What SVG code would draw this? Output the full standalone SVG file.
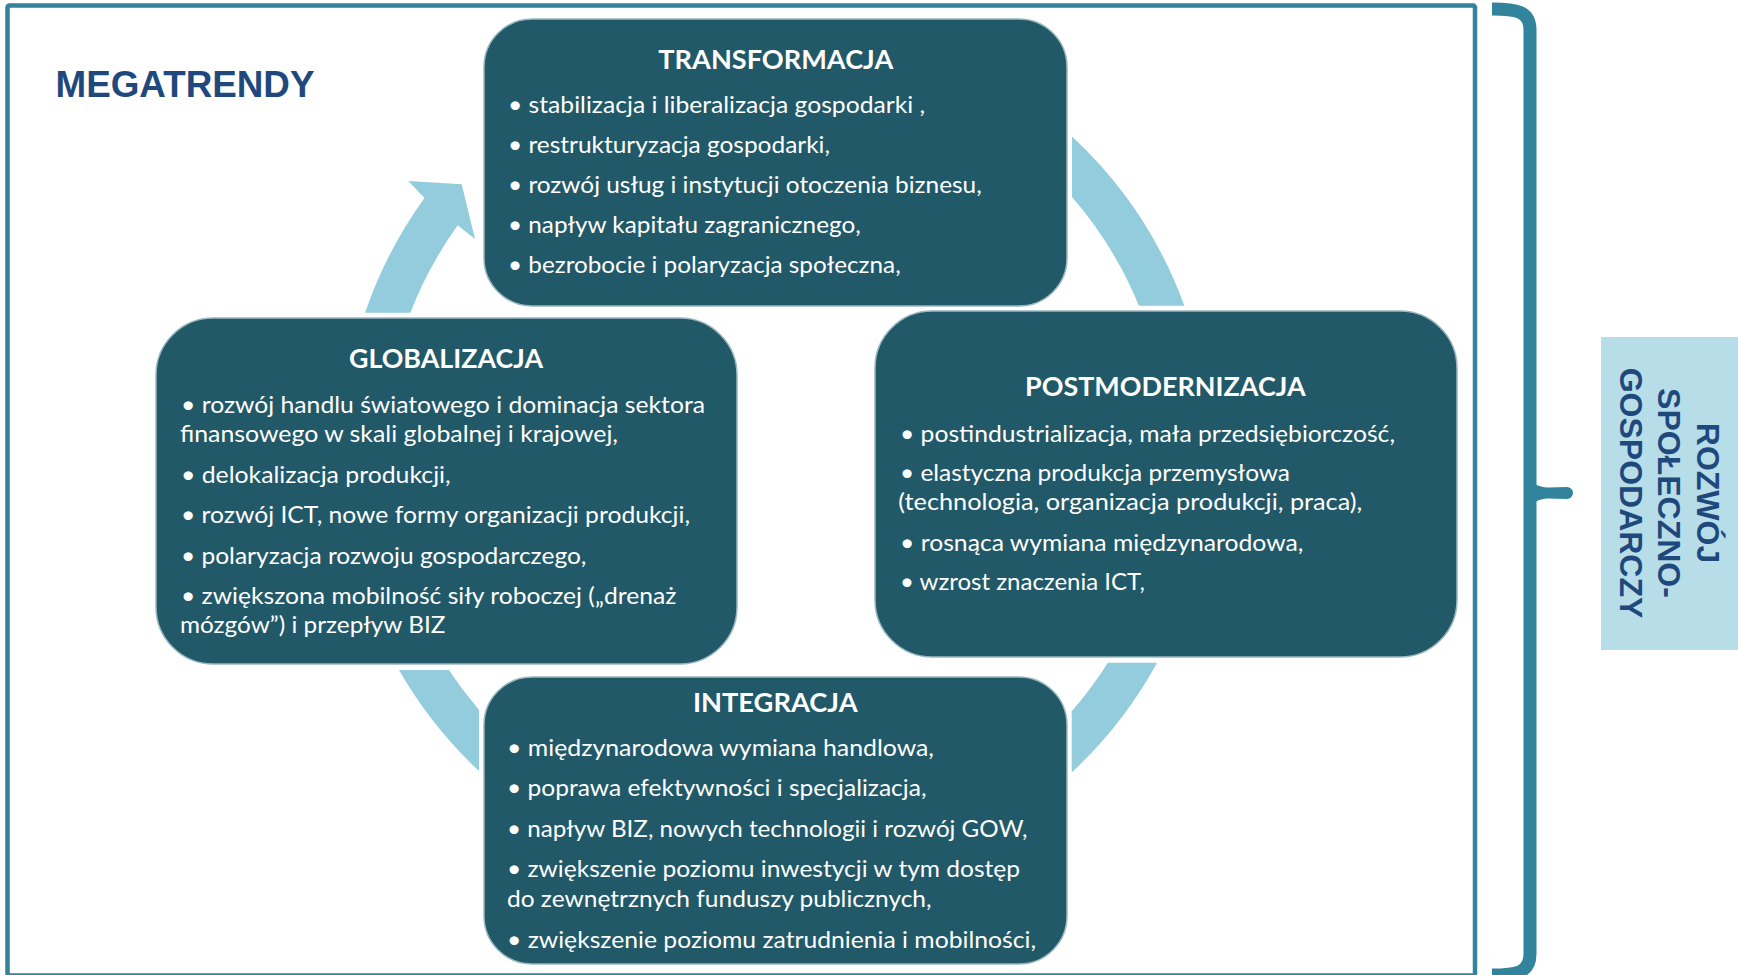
<svg xmlns="http://www.w3.org/2000/svg" width="1738" height="975" viewBox="0 0 1738 975">
  <style>
    .box { fill: #215968; stroke: #9bb8c0; stroke-width: 1.5; }
    .ring { fill: #93CDDD; }
    .title { font-family: Lato, "Open Sans", sans-serif; font-weight: bold; font-size: 27.5px; fill: #ffffff; }
    .body { font-family: Lato, "Open Sans", sans-serif; font-size: 23px; fill: #ffffff; }
    .head { font-family: "Liberation Sans", Arial, sans-serif; font-weight: bold; fill: #1F497D; }
  </style>
  <rect x="0" y="0" width="1738" height="975" fill="#ffffff"/>

  <g id="frame">
    <rect x="7.5" y="5.5" width="1467.5" height="970" rx="2" fill="#ffffff" stroke="#31849B" stroke-width="4.5"/>
  </g>

  <g id="megatrendy">
    <text class="head" x="55.5" y="97.3" font-size="36.5" textLength="259" lengthAdjust="spacingAndGlyphs">MEGATRENDY</text>
  </g>

  <g id="connectors">
    <path class="ring" d="M 365.1,312.7 A 434.5 434.5 0 0 1 424.5,198 L 408.3,181 L 461.7,184.3 L 475,239 L 457.7,225.3 A 392 392 0 0 0 410.4,312.7 Z"/>
    <path class="ring" d="M 1072,136.6 A 434.5 434.5 0 0 1 1184.4,305.7 L 1138.9,305.7 A 392 392 0 0 0 1072,197 Z"/>
    <path class="ring" d="M 1157.1,662.7 A 434.5 434.5 0 0 1 1071.7,772.4 L 1071.7,711.3 A 392 392 0 0 0 1107.8,662.7 Z"/>
    <path class="ring" d="M 479,771.1 A 434.5 434.5 0 0 1 399,670 L 448.9,670 A 392 392 0 0 0 479,709.8 Z"/>
  </g>

  <g id="transformacja">
    <rect class="box" x="484" y="19" width="583" height="287" rx="48" ry="48"/>
    <text class="title" x="658.3" y="69.3" textLength="235" lengthAdjust="spacingAndGlyphs">TRANSFORMACJA</text>
    <text class="body" x="508" y="113.3" textLength="417" lengthAdjust="spacingAndGlyphs">• stabilizacja i liberalizacja gospodarki ,</text>
    <text class="body" x="508" y="153.3" textLength="322" lengthAdjust="spacingAndGlyphs">• restrukturyzacja gospodarki,</text>
    <text class="body" x="508" y="193.3" textLength="473.7" lengthAdjust="spacingAndGlyphs">• rozwój usług i instytucji otoczenia biznesu,</text>
    <text class="body" x="508" y="233.3" textLength="352.7" lengthAdjust="spacingAndGlyphs">• napływ kapitału zagranicznego,</text>
    <text class="body" x="508" y="273.3" textLength="392.7" lengthAdjust="spacingAndGlyphs">• bezrobocie i polaryzacja społeczna,</text>
  </g>

  <g id="globalizacja">
    <rect class="box" x="156" y="318" width="581" height="346" rx="57" ry="57"/>
    <text class="title" x="349" y="368.3" textLength="194" lengthAdjust="spacingAndGlyphs">GLOBALIZACJA</text>
    <text class="body" x="181" y="413.3" textLength="524" lengthAdjust="spacingAndGlyphs">• rozwój handlu światowego i dominacja sektora</text>
    <text class="body" x="180" y="442.3" textLength="438" lengthAdjust="spacingAndGlyphs">finansowego w skali globalnej i krajowej,</text>
    <text class="body" x="181" y="482.7" textLength="269.7" lengthAdjust="spacingAndGlyphs">• delokalizacja produkcji,</text>
    <text class="body" x="181" y="523.3" textLength="509" lengthAdjust="spacingAndGlyphs">• rozwój ICT, nowe formy organizacji produkcji,</text>
    <text class="body" x="181" y="564.3" textLength="405.4" lengthAdjust="spacingAndGlyphs">• polaryzacja rozwoju gospodarczego,</text>
    <text class="body" x="181" y="604.3" textLength="495.4" lengthAdjust="spacingAndGlyphs">• zwiększona mobilność siły roboczej („drenaż</text>
    <text class="body" x="180" y="632.7" textLength="265.4" lengthAdjust="spacingAndGlyphs">mózgów”) i przepływ BIZ</text>
  </g>

  <g id="postmodernizacja">
    <rect class="box" x="875" y="311" width="582" height="346" rx="57" ry="57"/>
    <text class="title" x="1025" y="395.7" textLength="280.7" lengthAdjust="spacingAndGlyphs">POSTMODERNIZACJA</text>
    <text class="body" x="900" y="441.7" textLength="495" lengthAdjust="spacingAndGlyphs">• postindustrializacja, mała przedsiębiorczość,</text>
    <text class="body" x="900" y="480.7" textLength="390" lengthAdjust="spacingAndGlyphs">• elastyczna produkcja przemysłowa</text>
    <text class="body" x="898.3" y="510" textLength="464" lengthAdjust="spacingAndGlyphs">(technologia, organizacja produkcji, praca),</text>
    <text class="body" x="900" y="550.7" textLength="403.3" lengthAdjust="spacingAndGlyphs">• rosnąca wymiana międzynarodowa,</text>
    <text class="body" x="900" y="590" textLength="245" lengthAdjust="spacingAndGlyphs">• wzrost znaczenia ICT,</text>
  </g>

  <g id="integracja">
    <rect class="box" x="484" y="677" width="583" height="287" rx="48" ry="48"/>
    <text class="title" x="692.9" y="711.7" textLength="164.8" lengthAdjust="spacingAndGlyphs">INTEGRACJA</text>
    <text class="body" x="507" y="755.5" textLength="427" lengthAdjust="spacingAndGlyphs">• międzynarodowa wymiana handlowa,</text>
    <text class="body" x="507" y="796" textLength="419.5" lengthAdjust="spacingAndGlyphs">• poprawa efektywności i specjalizacja,</text>
    <text class="body" x="507" y="836.5" textLength="520.6" lengthAdjust="spacingAndGlyphs">• napływ BIZ, nowych technologii i rozwój GOW,</text>
    <text class="body" x="507" y="877" textLength="513" lengthAdjust="spacingAndGlyphs">• zwiększenie poziomu inwestycji w tym dostęp</text>
    <text class="body" x="507" y="906.5" textLength="424.6" lengthAdjust="spacingAndGlyphs">do zewnętrznych funduszy publicznych,</text>
    <text class="body" x="507" y="947.5" textLength="529" lengthAdjust="spacingAndGlyphs">• zwiększenie poziomu zatrudnienia i mobilności,</text>
  </g>

  <g id="bracket">
    <path d="M 1492,9 C 1516,9 1530,11 1530,30 L 1530,954 C 1530,973 1516,975 1492,975" fill="none" stroke="#31849B" stroke-width="13"/>
    <path d="M 1530,476 Q 1533,487 1548,487.5 L 1567,487 A 6 6 0 0 1 1567,499 L 1548,498.5 Q 1533,499 1530,510 Z" fill="#31849B"/>
  </g>

  <g id="rozwoj">
    <rect x="1601" y="337" width="137" height="313" fill="#B7DDE8"/>
    <g transform="translate(1669,493) rotate(90)">
      <text class="head" x="0" y="-27.5" font-size="32" text-anchor="middle">ROZWÓJ</text>
      <text class="head" x="0" y="11.5" font-size="32" text-anchor="middle">SPOŁECZNO-</text>
      <text class="head" x="0" y="49.5" font-size="32" text-anchor="middle">GOSPODARCZY</text>
    </g>
  </g>
</svg>
